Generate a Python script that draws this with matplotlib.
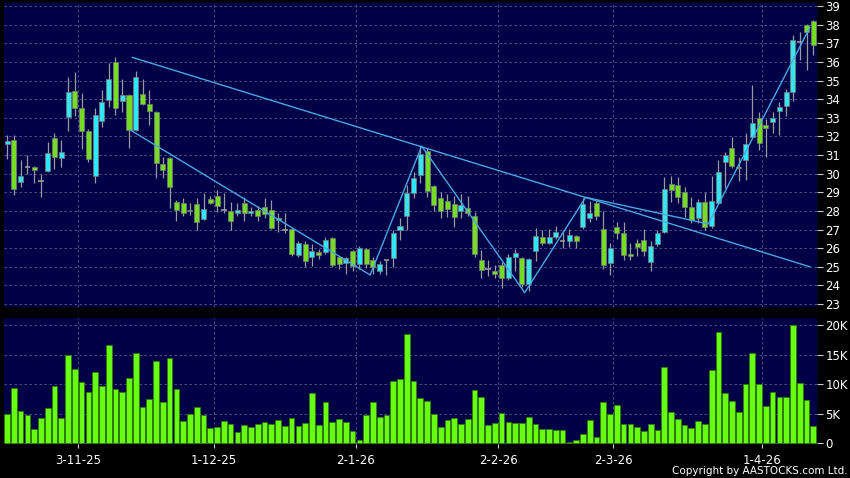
import matplotlib
matplotlib.use('Agg')
import matplotlib.pyplot as plt
import numpy as np

# daily candles (index 0 = first bar)
opens = [31.6, 31.8, 29.55, 30.35, 30.35, 29.6, 30.15, 31.9, 30.85, 33.05,
         34.45, 33.5, 32.3, 29.85, 32.8, 33.95, 36.0, 33.9, 34.2, 32.35,
         34.3, 33.75, 33.3, 30.5, 30.85, 28.5, 28.4, 28.0, 28.35, 27.55,
         28.65, 28.8, 28.05, 28.0, 27.9, 28.4, 27.9, 28.05, 28.2, 28.05,
         27.5, 27.0, 27.05, 25.65, 26.2, 25.5, 25.8, 25.8, 26.55, 25.5,
         25.2, 25.85, 25.15, 25.95, 25.35, 24.8, 25.35, 25.45, 27.0, 27.75,
         28.98, 29.95, 31.2, 29.35, 28.7, 28.55, 28.35, 28.0, 28.18, 27.7,
         25.35, 24.9, 24.75, 25.1, 24.4, 25.5, 25.45, 24.05, 25.85, 26.6,
         26.3, 26.6, 26.37, 26.37, 26.66, 27.15, 27.6, 28.45, 27.05, 25.2,
         27.15, 26.8, 25.7, 26.3, 26.43, 25.23, 26.2, 26.85, 29.45, 29.4,
         29.0, 28.2, 27.62, 28.47, 27.18, 28.42, 30.62, 31.4, 30.35, 30.75,
         31.96, 32.98, 32.6, 32.77, 33.36, 33.63, 34.38, 37.05, 38.0, 38.2]
highs = [32.1, 32.1, 30.75, 31.0, 30.4, 30.0, 31.7, 32.2, 31.8, 35.2,
         35.45, 34.35, 32.4, 33.5, 34.5, 35.95, 36.25, 35.1, 34.3, 35.5,
         35.1, 34.5, 33.35, 30.9, 30.9, 28.6, 28.7, 28.4, 28.7, 28.95,
         28.8, 29.1, 28.95, 28.5, 28.4, 28.75, 28.2, 28.25, 28.7, 28.6,
         27.9, 27.9, 27.1, 26.4, 26.4, 26.2, 25.95, 26.6, 26.6, 25.55,
         25.5, 25.9, 26.1, 26.0, 25.5, 25.3, 25.35, 27.0, 27.6, 29.4,
         30.1, 31.5, 31.4, 29.4, 29.0, 28.9, 28.8, 28.9, 28.8, 27.95,
         25.9, 25.35, 25.1, 25.25, 25.7, 25.95, 25.5, 25.45, 27.1, 27.0,
         27.05, 27.2, 27.0, 27.05, 26.7, 28.7, 28.55, 28.55, 28.0, 26.25,
         27.4, 27.4, 26.25, 26.5, 27.05, 26.4, 27.0, 29.8, 29.85, 29.8,
         29.3, 28.75, 28.65, 29.0, 29.85, 30.75, 31.15, 31.96, 30.9, 32.2,
         34.75, 33.3, 32.95, 33.3, 33.85, 34.55, 37.46, 37.6, 38.05, 38.27]
lows = [30.8, 28.85, 29.3, 30.0, 29.5, 28.75, 30.1, 30.25, 30.35, 32.3,
        33.1, 31.3, 30.6, 29.5, 32.5, 33.6, 33.15, 33.3, 31.4, 32.3,
        33.7, 32.6, 29.75, 29.75, 28.15, 27.45, 27.7, 27.8, 26.95, 27.5,
        28.35, 27.95, 27.9, 27.0, 27.7, 27.45, 27.75, 27.45, 27.6, 27.05,
        26.85, 26.8, 25.6, 25.55, 25.0, 25.05, 25.4, 25.7, 25.0, 24.9,
        24.6, 24.8, 24.9, 24.95, 24.6, 24.6, 24.55, 25.0, 26.45, 27.0,
        28.7, 29.5, 28.75, 28.0, 27.6, 27.65, 27.15, 27.6, 27.7, 25.5,
        24.4, 24.5, 24.4, 23.85, 24.3, 24.8, 23.9, 23.7, 25.3, 26.15,
        26.2, 26.5, 26.0, 26.05, 26.0, 27.05, 27.4, 27.5, 24.9, 24.55,
        26.5, 25.35, 25.35, 25.6, 25.6, 24.75, 26.1, 26.8, 28.5, 28.45,
        27.65, 27.35, 27.35, 26.95, 27.1, 28.4, 29.25, 30.3, 29.6, 29.65,
        31.9, 31.25, 30.9, 32.2, 32.05, 33.1, 33.88, 36.1, 35.55, 36.35]
closes = [31.75, 29.2, 29.9, 30.35, 30.2, 29.6, 31.1, 30.9, 31.15, 34.4,
          33.5, 32.3, 30.8, 33.15, 33.85, 35.1, 33.5, 34.2, 32.35, 35.2,
          33.75, 33.35, 30.55, 30.2, 29.3, 28.05, 27.9, 28.05, 27.4, 28.1,
          28.45, 28.25, 28.05, 27.45, 28.05, 27.9, 28.0, 27.75, 27.85, 27.1,
          27.6, 27.0, 25.7, 26.25, 25.3, 25.85, 25.65, 26.45, 25.1, 25.15,
          25.45, 25.05, 26.0, 25.15, 25.0, 25.15, 25.35, 26.8, 27.2, 28.95,
          29.78, 31.05, 29.05, 28.3, 28.0, 28.1, 27.65, 28.3, 27.9, 25.7,
          24.85, 24.9, 24.62, 24.4, 25.5, 25.75, 24.05, 25.4, 26.65, 26.3,
          26.6, 26.85, 26.37, 26.7, 26.4, 28.35, 27.9, 27.7, 25.1, 26.0,
          26.8, 25.65, 25.6, 26.05, 25.85, 26.13, 26.82, 29.15, 29.1, 28.75,
          28.2, 27.5, 28.5, 27.16, 28.52, 30.08, 31.0, 30.4, 30.3, 31.6,
          32.7, 31.64, 32.45, 33.0, 33.6, 34.38, 37.2, 37.05, 37.6, 36.92]
# volume in thousands
volumes = [4.9, 9.3, 5.4, 4.7, 2.3, 4.3, 6.0, 9.6, 4.2, 15.0,
           12.5, 10.4, 8.6, 12.0, 9.7, 16.6, 9.1, 8.7, 11.0, 15.3,
           6.1, 7.4, 13.9, 6.9, 14.4, 9.2, 3.7, 4.9, 6.1, 4.7,
           2.6, 2.65, 3.7, 3.2, 1.9, 3.1, 2.7, 3.2, 3.55, 3.2,
           3.9, 2.8, 4.3, 2.9, 3.4, 8.5, 3.0, 6.9, 3.6, 4.1,
           3.6, 2.1, 0.5, 4.8, 7.0, 4.4, 4.7, 10.5, 10.8, 18.4,
           10.5, 7.7, 7.2, 4.9, 2.65, 3.95, 4.2, 3.15, 4.1, 9.0,
           7.85, 3.1, 3.45, 5.1, 3.6, 3.4, 3.4, 4.4, 3.2, 2.4,
           2.4, 2.15, 2.2, 0.2, 0.5, 1.5, 3.9, 1.1, 6.9, 4.85,
           6.4, 3.3, 3.3, 2.65, 2.1, 3.2, 2.2, 12.9, 5.2, 4.0,
           3.1, 2.6, 3.7, 3.3, 12.35, 18.9, 8.5, 7.1, 5.25, 10.0,
           15.3, 10.0, 6.2, 8.6, 7.85, 7.85, 20.0, 10.1, 7.3, 2.9]

date_labels = ['3-11-25', '1-12-25', '2-1-26', '2-2-26', '2-3-26', '1-4-26']
date_pos = [10.5, 30.5, 51.5, 72.5, 89.5, 111.5]

# trend lines drawn on the chart (bar index, price)
long_x = [18.5, 118.5]
long_y = [36.24, 25.0]
zig_x = [18.2, 53.6, 61.2, 76.4, 85.4, 103.5, 118.5]
zig_y = [32.34, 24.56, 31.48, 23.61, 28.73, 27.3, 37.85]

bg = '#000046'
up_col = '#33e6f6'
down_col = '#74dd22'
wick_col = '#9a9a9a'
grid_col = '#5a5a8c'
line_col = '#4aa6e2'

fig = plt.figure(figsize=(8.5, 4.78), dpi=100, facecolor='black')
ax = fig.add_axes([0.0047, 0.3577, 0.9565, 0.636])
axv = fig.add_axes([0.0047, 0.0711, 0.9565, 0.2636])

x = np.arange(len(closes))
o = np.array(opens)
c = np.array(closes)

for a in (ax, axv):
    a.set_facecolor(bg)
    for s in a.spines.values():
        s.set_visible(False)
    a.yaxis.tick_right()
    a.tick_params(axis='y', colors='#cccccc', labelcolor='white', labelsize=8.5,
                  length=4, width=0.8, pad=2)
    a.set_xlim(-0.45, 119.55)
    a.set_xticks(date_pos)
    a.grid(True, color=grid_col, linestyle=(0, (3, 3)), linewidth=0.6)
    a.set_axisbelow(True)

# candles
ax.vlines(x, lows, highs, color=wick_col, linewidth=0.9, zorder=2)
body_col = [up_col if cc > oo else down_col for oo, cc in zip(o, c)]
body_h = np.abs(c - o)
body_b = np.minimum(o, c)
real = body_h > 0
ax.bar(x[real], body_h[real], bottom=body_b[real], width=0.74,
       color=np.array(body_col)[real], edgecolor='#7a7a7a', linewidth=0.5, zorder=3)
doji = ~real
ax.hlines(c[doji], x[doji] - 0.4, x[doji] + 0.4, color=wick_col, linewidth=1.2, zorder=3)

ax.plot(long_x, long_y, color=line_col, linewidth=1.0, zorder=4)
ax.plot(zig_x, zig_y, color=line_col, linewidth=1.0, zorder=4)

ax.set_ylim(22.84, 39.16)
ax.set_yticks(range(23, 40))
ax.tick_params(axis='x', length=0, labelbottom=False)

# volume
axv.bar(x, volumes, width=0.84, color='#66ff11', edgecolor='#2f7a05', linewidth=0.6, zorder=3)
axv.set_ylim(-0.17, 21.19)
axv.set_yticks([0, 5, 10, 15, 20])
axv.set_yticklabels(['0', '5K', '10K', '15K', '20K'])
axv.set_xticklabels(date_labels)
axv.tick_params(axis='x', colors='#cccccc', labelcolor='white', labelsize=8.5,
                length=3, width=0.8, pad=4)

fig.text(0.997, 0.005, 'Copyright by AASTOCKS.com Ltd.', color='white',
         fontsize=7.5, ha='right', va='bottom')

fig.savefig('out.png', dpi=100, facecolor='black')
